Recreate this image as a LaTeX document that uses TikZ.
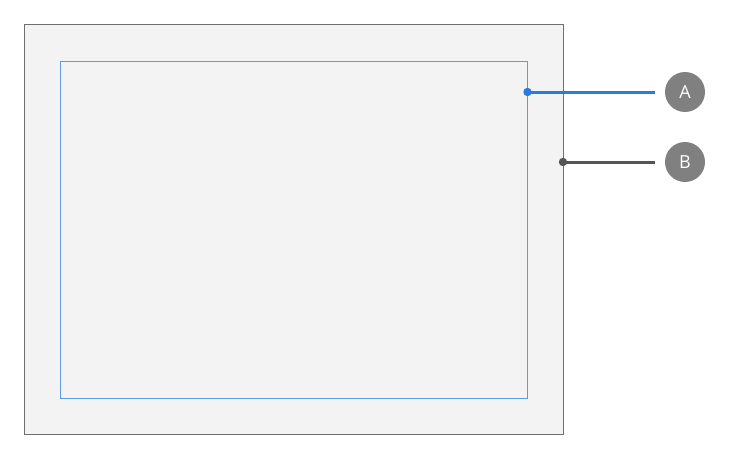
\documentclass[tikz,border=0pt]{standalone}
\usepackage{fontspec}
\setmainfont{Open Sans}
\usepackage{tikz}
\usetikzlibrary{calc}
\definecolor{panelgray}{HTML}{F3F3F3}
\definecolor{framegray}{HTML}{6E6E6E}
\definecolor{innerblue}{HTML}{5B9BE6}
\definecolor{leadblue}{HTML}{2B7BDE}
\definecolor{leadgray}{HTML}{555555}
\definecolor{badgegray}{HTML}{808080}
\tikzset{
	badge/.style={circle, fill=badgegray, minimum size=40pt, inner sep=0pt, text=white, font=\fontsize{18}{18}\selectfont},
	lead/.style={line width=3pt},
}

\begin{document}
\begin{tikzpicture}[x=1pt, y=-1pt]
			%%%%% START %%%%%
			\useasboundingbox (0, 0) rectangle (731, 460);
			
			\draw[framegray, fill=panelgray, line width=1pt] (24.5, 25) rectangle (563, 434);
			\draw[innerblue, line width=1pt] (60, 61.5) rectangle (527.5, 398);
			
			\node[badge] (A) at (685, 92) {A};
			\node[badge] (B) at (685, 162) {B};
			
			\coordinate (ha) at (527.5, 92);
			\coordinate (hb) at (563, 162);
			
			\draw[lead, leadblue] (ha) -- ($(A.west)+(-10,0)$);
			\fill[leadblue] (ha) circle (4.2);
			\draw[lead, leadgray] (hb) -- ($(B.west)+(-10,0)$);
			\fill[leadgray] (hb) circle (4.2);
			
			%%%%% END %%%%%
\end{tikzpicture}
\end{document}
